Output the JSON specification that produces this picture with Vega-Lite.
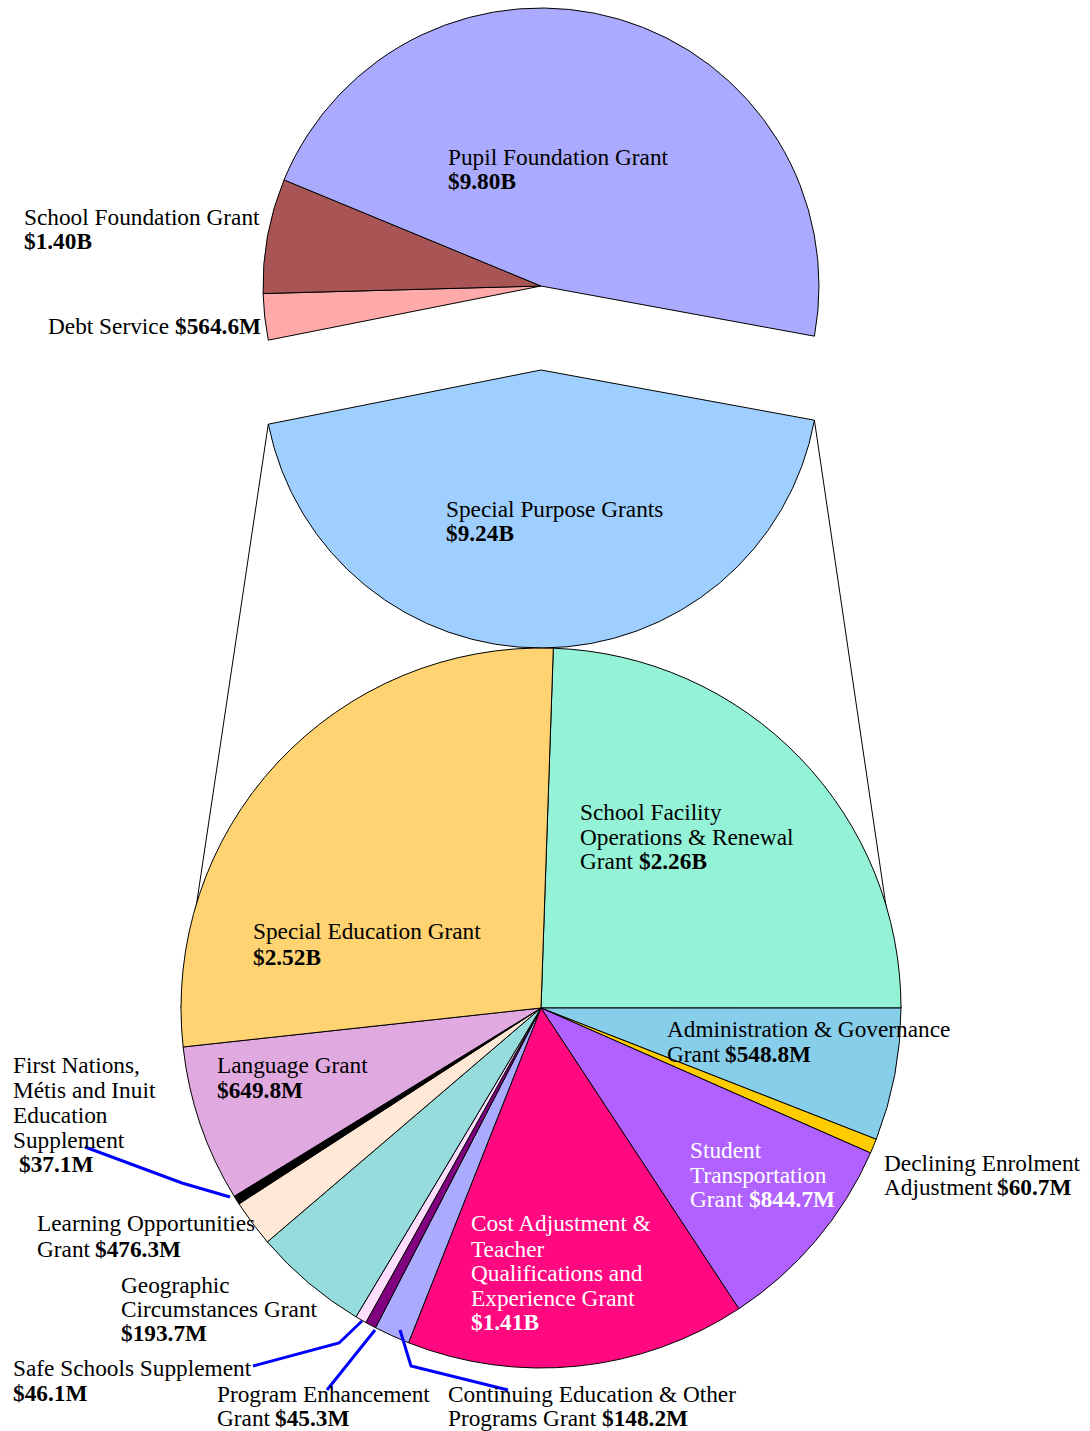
{
  "$schema": "https://vega.github.io/schema/vega-lite/v6.json",
  "width": 1090,
  "height": 1431,
  "autosize": {"type": "fit", "contains": "padding"},
  "padding": 0,
  "background": "white",
  "config": {"view": {"stroke": null}},
  "datasets": {
    "top": [
      {"grant": "Special Purpose Grants", "value": 9.24, "rank": 1},
      {"grant": "Debt Service", "value": 0.5646, "rank": 2},
      {"grant": "School Foundation Grant", "value": 1.40, "rank": 3},
      {"grant": "Pupil Foundation Grant", "value": 9.80, "rank": 4}
    ],
    "bottom": [
      {"grant": "School Facility Operations & Renewal Grant", "value": 2.26, "rank": 1},
      {"grant": "Administration & Governance Grant", "value": 0.5488, "rank": 2},
      {"grant": "Declining Enrolment Adjustment", "value": 0.0607, "rank": 3},
      {"grant": "Student Transportation Grant", "value": 0.8447, "rank": 4},
      {"grant": "Cost Adjustment & Teacher Qualifications and Experience Grant", "value": 1.41, "rank": 5},
      {"grant": "Continuing Education & Other Programs Grant", "value": 0.1482, "rank": 6},
      {"grant": "Program Enhancement Grant", "value": 0.0453, "rank": 7},
      {"grant": "Safe Schools Supplement", "value": 0.0461, "rank": 8},
      {"grant": "Learning Opportunities Grant", "value": 0.4763, "rank": 9},
      {"grant": "Geographic Circumstances Grant", "value": 0.1937, "rank": 10},
      {"grant": "First Nations, Métis and Inuit Education Supplement", "value": 0.0371, "rank": 11},
      {"grant": "Language Grant", "value": 0.6498, "rank": 12},
      {"grant": "Special Education Grant", "value": 2.52, "rank": 13}
    ],
    "connectors": [
      {"side": "left", "x": 268.3, "y": 424.1, "x2": 181, "y2": 1008},
      {"side": "right", "x": 814.4, "y": 420.2, "x2": 901, "y2": 1008}
    ],
    "leaders": [
      {"leader": "First Nations", "i": 1, "x": 85, "y": 1147},
      {"leader": "First Nations", "i": 2, "x": 182, "y": 1183},
      {"leader": "First Nations", "i": 3, "x": 230, "y": 1197},
      {"leader": "Safe Schools", "i": 1, "x": 253, "y": 1366},
      {"leader": "Safe Schools", "i": 2, "x": 339, "y": 1343},
      {"leader": "Safe Schools", "i": 3, "x": 362, "y": 1321},
      {"leader": "Program Enhancement", "i": 1, "x": 327, "y": 1390},
      {"leader": "Program Enhancement", "i": 2, "x": 375, "y": 1330},
      {"leader": "Continuing Education", "i": 1, "x": 400, "y": 1330},
      {"leader": "Continuing Education", "i": 2, "x": 411, "y": 1366},
      {"leader": "Continuing Education", "i": 3, "x": 508, "y": 1390}
    ],
    "labels": [
      {"grant": "Pupil Foundation Grant", "kind": "name", "text": "Pupil Foundation Grant", "x": 448, "y": 165},
      {"grant": "Pupil Foundation Grant", "kind": "value", "text": "$9.80B", "x": 448, "y": 189},
      {"grant": "School Foundation Grant", "kind": "name", "text": "School Foundation Grant", "x": 24, "y": 225},
      {"grant": "School Foundation Grant", "kind": "value", "text": "$1.40B", "x": 24, "y": 249},
      {"grant": "Debt Service", "kind": "name", "text": "Debt Service", "x": 48, "y": 334},
      {"grant": "Debt Service", "kind": "value", "text": "$564.6M", "x": 175, "y": 334},
      {"grant": "Special Purpose Grants", "kind": "name", "text": "Special Purpose Grants", "x": 446, "y": 517},
      {"grant": "Special Purpose Grants", "kind": "value", "text": "$9.24B", "x": 446, "y": 541},
      {"grant": "School Facility Operations & Renewal Grant", "kind": "name", "text": "School Facility", "x": 580, "y": 820},
      {"grant": "School Facility Operations & Renewal Grant", "kind": "name", "text": "Operations & Renewal", "x": 580, "y": 845},
      {"grant": "School Facility Operations & Renewal Grant", "kind": "name", "text": "Grant", "x": 580, "y": 869},
      {"grant": "School Facility Operations & Renewal Grant", "kind": "value", "text": "$2.26B", "x": 639, "y": 869},
      {"grant": "Special Education Grant", "kind": "name", "text": "Special Education Grant", "x": 253, "y": 939},
      {"grant": "Special Education Grant", "kind": "value", "text": "$2.52B", "x": 253, "y": 965},
      {"grant": "Administration & Governance Grant", "kind": "name", "text": "Administration & Governance", "x": 667, "y": 1037},
      {"grant": "Administration & Governance Grant", "kind": "name", "text": "Grant", "x": 667, "y": 1062},
      {"grant": "Administration & Governance Grant", "kind": "value", "text": "$548.8M", "x": 725, "y": 1062},
      {"grant": "Declining Enrolment Adjustment", "kind": "name", "text": "Declining Enrolment", "x": 884, "y": 1171},
      {"grant": "Declining Enrolment Adjustment", "kind": "name", "text": "Adjustment", "x": 884, "y": 1195},
      {"grant": "Declining Enrolment Adjustment", "kind": "value", "text": "$60.7M", "x": 997, "y": 1195},
      {"grant": "Student Transportation Grant", "kind": "name", "text": "Student", "x": 690, "y": 1158},
      {"grant": "Student Transportation Grant", "kind": "name", "text": "Transportation", "x": 690, "y": 1183},
      {"grant": "Student Transportation Grant", "kind": "name", "text": "Grant", "x": 690, "y": 1207},
      {"grant": "Student Transportation Grant", "kind": "value", "text": "$844.7M", "x": 749, "y": 1207},
      {"grant": "Cost Adjustment & Teacher Qualifications and Experience Grant", "kind": "name", "text": "Cost Adjustment &", "x": 471, "y": 1231},
      {"grant": "Cost Adjustment & Teacher Qualifications and Experience Grant", "kind": "name", "text": "Teacher", "x": 471, "y": 1257},
      {"grant": "Cost Adjustment & Teacher Qualifications and Experience Grant", "kind": "name", "text": "Qualifications and", "x": 471, "y": 1281},
      {"grant": "Cost Adjustment & Teacher Qualifications and Experience Grant", "kind": "name", "text": "Experience Grant", "x": 471, "y": 1306},
      {"grant": "Cost Adjustment & Teacher Qualifications and Experience Grant", "kind": "value", "text": "$1.41B", "x": 471, "y": 1330},
      {"grant": "Language Grant", "kind": "name", "text": "Language Grant", "x": 217, "y": 1073},
      {"grant": "Language Grant", "kind": "value", "text": "$649.8M", "x": 217, "y": 1098},
      {"grant": "First Nations, Métis and Inuit Education Supplement", "kind": "name", "text": "First Nations,", "x": 13, "y": 1073},
      {"grant": "First Nations, Métis and Inuit Education Supplement", "kind": "name", "text": "Métis and Inuit", "x": 13, "y": 1098},
      {"grant": "First Nations, Métis and Inuit Education Supplement", "kind": "name", "text": "Education", "x": 13, "y": 1123},
      {"grant": "First Nations, Métis and Inuit Education Supplement", "kind": "name", "text": "Supplement", "x": 13, "y": 1148},
      {"grant": "First Nations, Métis and Inuit Education Supplement", "kind": "value", "text": "$37.1M", "x": 19, "y": 1172},
      {"grant": "Learning Opportunities Grant", "kind": "name", "text": "Learning Opportunities", "x": 37, "y": 1231},
      {"grant": "Learning Opportunities Grant", "kind": "name", "text": "Grant", "x": 37, "y": 1257},
      {"grant": "Learning Opportunities Grant", "kind": "value", "text": "$476.3M", "x": 95, "y": 1257},
      {"grant": "Geographic Circumstances Grant", "kind": "name", "text": "Geographic", "x": 121, "y": 1293},
      {"grant": "Geographic Circumstances Grant", "kind": "name", "text": "Circumstances Grant", "x": 121, "y": 1317},
      {"grant": "Geographic Circumstances Grant", "kind": "value", "text": "$193.7M", "x": 121, "y": 1341},
      {"grant": "Safe Schools Supplement", "kind": "name", "text": "Safe Schools Supplement", "x": 13, "y": 1376},
      {"grant": "Safe Schools Supplement", "kind": "value", "text": "$46.1M", "x": 13, "y": 1401},
      {"grant": "Program Enhancement Grant", "kind": "name", "text": "Program Enhancement", "x": 217, "y": 1402},
      {"grant": "Program Enhancement Grant", "kind": "name", "text": "Grant", "x": 217, "y": 1426},
      {"grant": "Program Enhancement Grant", "kind": "value", "text": "$45.3M", "x": 275, "y": 1426},
      {"grant": "Continuing Education & Other Programs Grant", "kind": "name", "text": "Continuing Education & Other", "x": 448, "y": 1402},
      {"grant": "Continuing Education & Other Programs Grant", "kind": "name", "text": "Programs Grant", "x": 448, "y": 1426},
      {"grant": "Continuing Education & Other Programs Grant", "kind": "value", "text": "$148.2M", "x": 602, "y": 1426}
    ]
  },
  "layer": [
    {
      "data": {"name": "top"},
      "mark": {"type": "arc", "radius": 278, "stroke": "black", "strokeWidth": 1, "thetaOffset": 1.75231, "theta2Offset": 1.75231},
      "encoding": {
        "x": {"datum": 541, "type": "quantitative", "scale": {"domain": [0, 1090], "nice": false, "zero": false}, "axis": null},
        "y": {"datum": 286, "type": "quantitative", "scale": {"domain": [0, 1431], "nice": false, "zero": false, "reverse": true}, "axis": null},
        "theta": {"field": "value", "type": "quantitative", "stack": "normalize"},
        "order": {"field": "rank", "type": "quantitative"},
        "color": {
          "field": "grant", "type": "nominal", "legend": null,
          "scale": {
            "domain": ["Pupil Foundation Grant", "School Foundation Grant", "Debt Service", "Special Purpose Grants", "School Facility Operations & Renewal Grant", "Administration & Governance Grant", "Declining Enrolment Adjustment", "Student Transportation Grant", "Cost Adjustment & Teacher Qualifications and Experience Grant", "Continuing Education & Other Programs Grant", "Program Enhancement Grant", "Safe Schools Supplement", "Learning Opportunities Grant", "Geographic Circumstances Grant", "First Nations, Métis and Inuit Education Supplement", "Language Grant", "Special Education Grant"],
            "range": ["#AAAAFF", "#AA5555", "#FFAAAA", "#9FCFFF", "#94F2D6", "#87CEEB", "#FFCC00", "#B061FF", "#FF0880", "#AAAAFF", "#800080", "#FFDDFF", "#96DCDC", "#FFE9D6", "#000000", "#E0AAE0", "#FFD272"]
          }
        },
        "opacity": {"condition": {"test": "datum.grant === 'Special Purpose Grants'", "value": 0}, "value": 1}
      }
    },
    {
      "data": {"name": "top"},
      "mark": {"type": "arc", "radius": 278, "stroke": "black", "strokeWidth": 1, "thetaOffset": 1.75231, "theta2Offset": 1.75231},
      "encoding": {
        "x": {"datum": 541, "type": "quantitative", "axis": null},
        "y": {"datum": 370, "type": "quantitative", "axis": null},
        "theta": {"field": "value", "type": "quantitative", "stack": "normalize"},
        "order": {"field": "rank", "type": "quantitative"},
        "color": {"field": "grant", "type": "nominal", "legend": null},
        "opacity": {"condition": {"test": "datum.grant === 'Special Purpose Grants'", "value": 1}, "value": 0}
      }
    },
    {
      "data": {"name": "connectors"},
      "mark": {"type": "rule", "color": "black", "strokeWidth": 1},
      "encoding": {
        "x": {"field": "x", "type": "quantitative", "axis": null},
        "y": {"field": "y", "type": "quantitative", "axis": null},
        "x2": {"field": "x2"},
        "y2": {"field": "y2"}
      }
    },
    {
      "data": {"name": "bottom"},
      "mark": {"type": "arc", "radius": 360, "stroke": "black", "strokeWidth": 1, "thetaOffset": 0.03421, "theta2Offset": 0.03421},
      "encoding": {
        "x": {"datum": 541, "type": "quantitative", "axis": null},
        "y": {"datum": 1008, "type": "quantitative", "axis": null},
        "theta": {"field": "value", "type": "quantitative", "stack": "normalize"},
        "order": {"field": "rank", "type": "quantitative"},
        "color": {"field": "grant", "type": "nominal", "legend": null}
      }
    },
    {
      "data": {"name": "leaders"},
      "mark": {"type": "line", "color": "#0000FF", "strokeWidth": 3},
      "encoding": {
        "x": {"field": "x", "type": "quantitative", "axis": null},
        "y": {"field": "y", "type": "quantitative", "axis": null},
        "detail": {"field": "leader", "type": "nominal"},
        "order": {"field": "i", "type": "quantitative"}
      }
    },
    {
      "data": {"name": "labels"},
      "transform": [{"filter": "datum.kind === 'name'"}],
      "mark": {"type": "text", "align": "left", "baseline": "alphabetic", "font": "Liberation Serif", "fontSize": 23.3},
      "encoding": {
        "x": {"field": "x", "type": "quantitative", "axis": null},
        "y": {"field": "y", "type": "quantitative", "axis": null},
        "text": {"field": "text", "type": "nominal"},
        "color": {"condition": {"test": "datum.grant === 'Student Transportation Grant' || datum.grant === 'Cost Adjustment & Teacher Qualifications and Experience Grant'", "value": "white"}, "value": "black"}
      }
    },
    {
      "data": {"name": "labels"},
      "transform": [{"filter": "datum.kind === 'value'"}],
      "mark": {"type": "text", "align": "left", "baseline": "alphabetic", "font": "Liberation Serif", "fontSize": 23.3, "fontWeight": "bold"},
      "encoding": {
        "x": {"field": "x", "type": "quantitative", "axis": null},
        "y": {"field": "y", "type": "quantitative", "axis": null},
        "text": {"field": "text", "type": "nominal"},
        "color": {"condition": {"test": "datum.grant === 'Student Transportation Grant' || datum.grant === 'Cost Adjustment & Teacher Qualifications and Experience Grant'", "value": "white"}, "value": "black"}
      }
    }
  ]
}
